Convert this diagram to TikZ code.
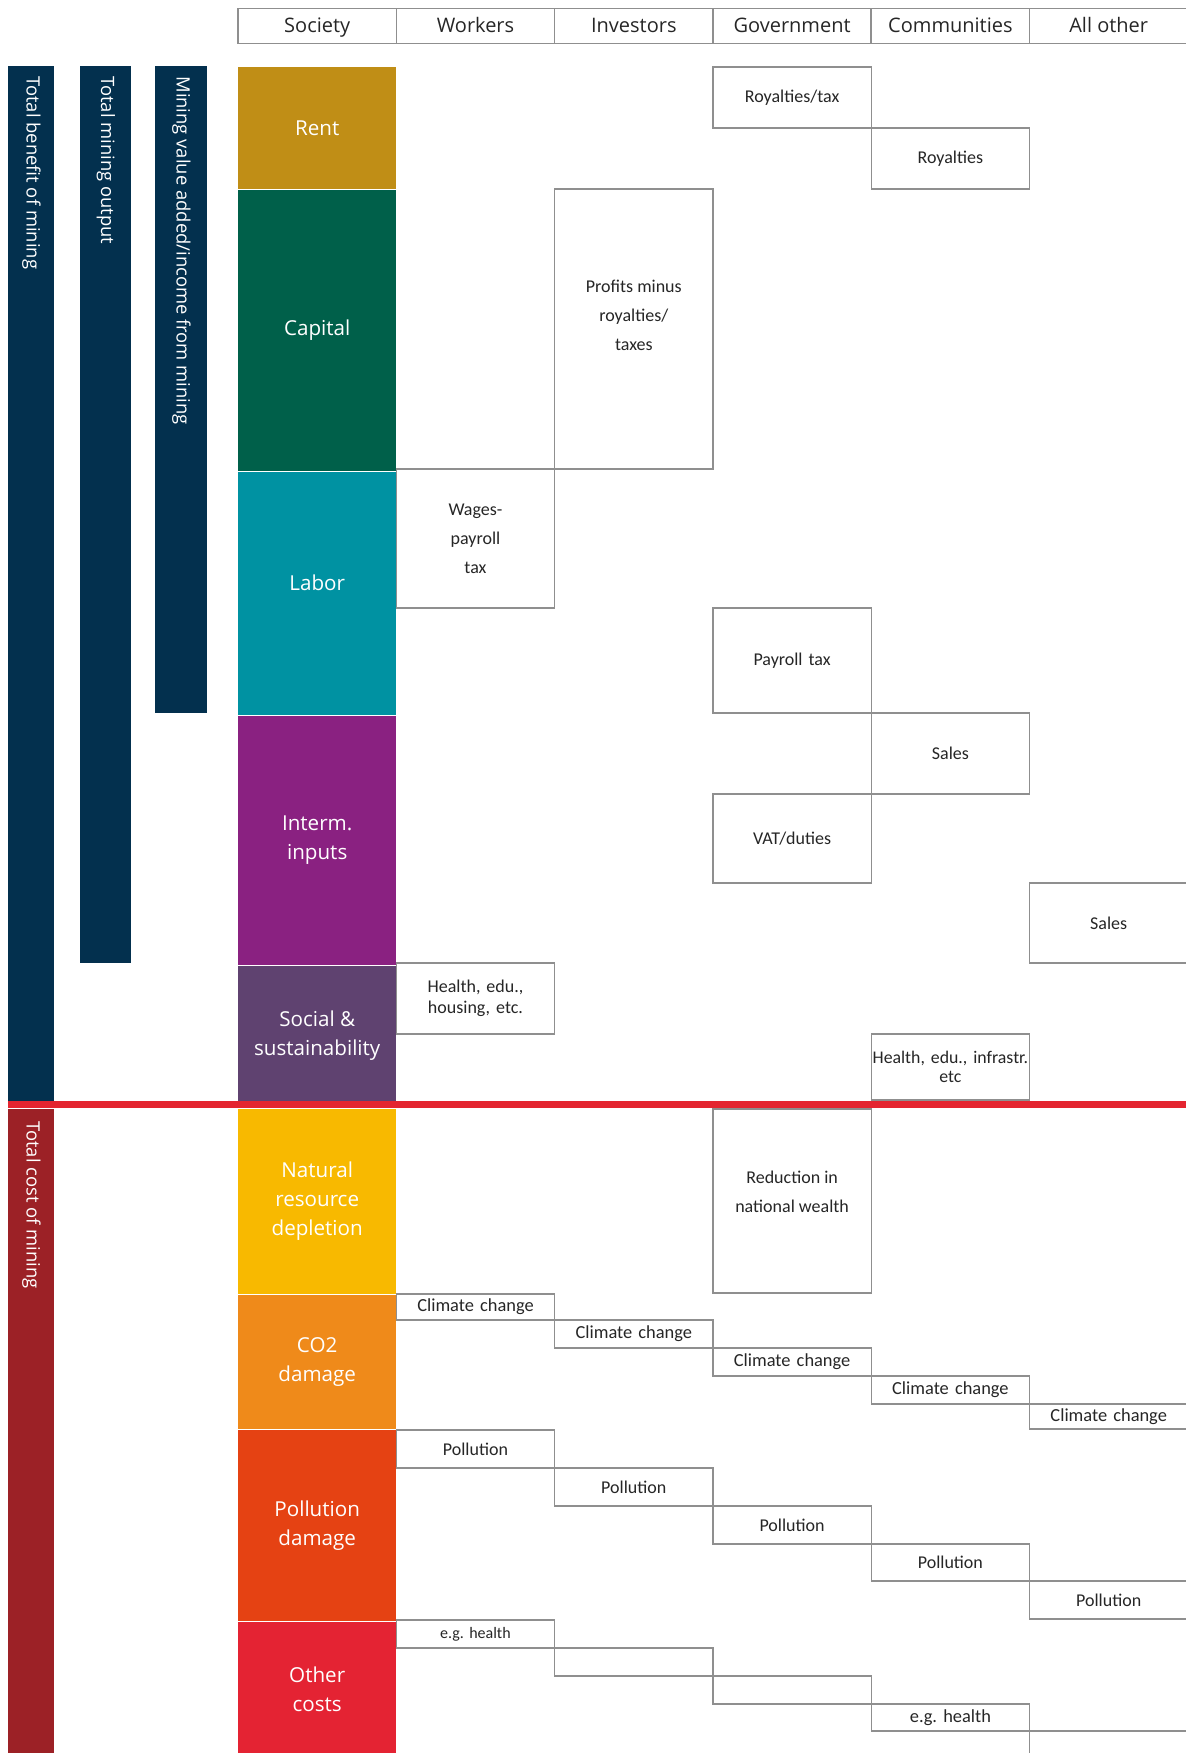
\documentclass[tikz,border=0pt]{standalone}
\usepackage{fontspec}
\setmainfont{Carlito}
\newfontfamily\segoe{Open Sans}
\usetikzlibrary{positioning}
\definecolor{navy}{HTML}{03304E}
\definecolor{costred}{HTML}{9C2126}
\definecolor{rentc}{HTML}{C08E16}
\definecolor{capc}{HTML}{00604A}
\definecolor{labc}{HTML}{0092A2}
\definecolor{intc}{HTML}{8A2181}
\definecolor{socc}{HTML}{5F4270}
\definecolor{natc}{HTML}{F8B900}
\definecolor{co2c}{HTML}{EF8A1A}
\definecolor{polc}{HTML}{E54213}
\definecolor{othc}{HTML}{E42333}
\definecolor{lin}{HTML}{E42530}
\definecolor{rim}{HTML}{8F8F8F}

\begin{document}
\begin{tikzpicture}[x=0.5pt, y=-0.5pt,
      hd/.style={draw=rim, line width=0.8pt, minimum width=79.15pt, minimum height=17.5pt,
                 inner sep=0pt, text height=1.8ex, text depth=0.3ex, text=black!85,
                 font=\segoe\fontsize{10}{12}\selectfont},
      blk/.style={minimum width=79.15pt, inner sep=0pt, align=center, text=white,
                  font=\segoe\fontsize{10.3}{14.5}\selectfont},
      bar/.style={fill=navy, inner sep=0pt, anchor=north west},
      bartxt/.style={rotate=-90, anchor=west, inner sep=0pt, text=white,
                     font=\segoe\fontsize{9.2}{11}\selectfont},
      cell/.style={draw=rim, line width=0.6pt, fill=white, text width=76pt, inner xsep=1.575pt,
                   inner ysep=0pt, outer sep=0pt, align=center, text=black!85,
                   font=\fontsize{9}{14.5}\selectfont},
      lbl/.style={align=center, inner sep=0pt, font=\fontsize{9}{14.5}\selectfont, text=black!85}]
    \useasboundingbox (0,0) rectangle (1186,1753);
    \foreach \t [count=\i from 0] in {Society, Workers, Investors, Government, Communities, All other}
      \node[hd] (h\i) at ({317.2+158.3*\i},25.8) {\t};
    % side bars
    \node[bar, minimum width=23pt, minimum height=517.5pt] (benefit) at (8,66) {};
    \node[bar, minimum width=25.5pt, minimum height=448.2pt] (output) at (80,66) {};
    \node[bar, minimum width=26pt, minimum height=323.5pt] (valadd) at (155,66) {};
    \node[bar, fill=costred, minimum width=23pt, minimum height=322pt] (cost) at (8,1109) {};
    \node[bartxt] at ([yshift=-5pt]benefit.north) {Total benefit of mining};
    \node[bartxt] at ([yshift=-5pt]output.north) {Total mining output};
    \node[bartxt] at ([yshift=-5pt]valadd.north) {Mining value added/income from mining};
    \node[bartxt] at ([yshift=-6pt]cost.north) {Total cost of mining};
    % society column
    \node[blk, fill=rentc, minimum height=61pt, anchor=north] (rent) at (317.2,67) {Rent};
    \node[blk, fill=capc, minimum height=140.25pt, below=0pt of rent] (capital) {Capital};
    \node[blk, fill=labc, minimum height=121.75pt, below=0pt of capital,
          label={[blk, yshift=5pt]center:Labor}] (labor) {};
    \node[blk, fill=intc, minimum height=124.7pt, below=0pt of labor] (interm) {Interm.\\inputs};
    \node[blk, fill=socc, minimum height=69.3pt, below=0pt of interm] (social) {Social \&\\sustainability};
    \node[blk, fill=natc, minimum height=92.5pt, anchor=north] (natural) at (317.2,1108.5) {Natural\\resource\\depletion};
    \node[blk, fill=co2c, minimum height=67.25pt, below=0pt of natural] (co2) {CO2\\damage};
    \node[blk, fill=polc, minimum height=95.5pt, below=0pt of co2] (pollut) {Pollution\\damage};
    \node[blk, fill=othc, minimum height=67pt, below=0pt of pollut] (other) {Other\\costs};
    \draw[lin, line width=3.5pt] (8,1104.5) -- (1186,1104.5);
    % benefits
    \node[cell, minimum height=30.5pt, anchor=north] (roytax) at (792.1,67) {Royalties/tax};
    \node[cell, minimum height=30.5pt, below right=0pt and 0pt of roytax] (roy) {Royalties};
    \node[cell, minimum height=140pt, anchor=north,
          label={[lbl, yshift=6.7pt]center:Profits minus\\royalties/\\taxes}] (profit) at (633.8,189) {};
    \node[cell, minimum height=69.5pt, below left=0pt and 0pt of profit] (wages) {Wages-\\payroll\\tax};
    \node[cell, minimum height=52.5pt, anchor=north] (payroll) at (792.1,608) {Payroll tax};
    \node[cell, minimum height=40.5pt, below right=0pt and 0pt of payroll] (salescom) {Sales};
    \node[cell, minimum height=44.5pt, below left=0pt and 0pt of salescom] (vat) {VAT/duties};
    \node[cell, minimum height=40pt, anchor=north] (salesall) at (1108.7,883) {Sales};
    \node[cell, minimum height=35.5pt, anchor=north, font=\fontsize{9}{10.5}\selectfont] (healthw) at (475.5,963) {Health, edu.,\\housing, etc.};
    \node[cell, minimum height=33pt, anchor=north, text width=79pt, inner xsep=0.075pt,
          font=\fontsize{8.9}{9.5}\selectfont] (healthc) at (950.4,1034) {Health, edu., infrastr.\\etc};
    % costs
    \node[cell, minimum height=92pt, anchor=north,
          label={[lbl, yshift=4.5pt]center:Reduction in\\national wealth}] (wealth) at (792.1,1109) {};
    \node[cell, minimum height=13pt, anchor=north, font=\fontsize{9.2}{11}\selectfont] (cc1) at (475.5,1294) {Climate change};
    \foreach \i/\j/\h in {2/1/14, 3/2/14, 4/3/14, 5/4/12.5}
      \node[cell, minimum height=\h pt, below right=0pt and 0pt of cc\j, font=\fontsize{9.2}{11}\selectfont] (cc\i) {Climate change};
    \node[cell, minimum height=19pt, anchor=north] (pol1) at (475.5,1430) {Pollution};
    \foreach \i/\j/\h in {2/1/19, 3/2/19, 4/3/18.5, 5/4/19}
      \node[cell, minimum height=\h pt, below right=0pt and 0pt of pol\j] (pol\i) {Pollution};
    \node[cell, minimum height=14pt, anchor=north, font=\fontsize{8}{10}\selectfont] (oth1) at (475.5,1620) {e.g.\ health};
    \foreach \i/\j/\h/\t in {2/1/14/{}, 3/2/14/{}, 4/3/13.5/e.g.\ health, 5/4/15/{}}
      \node[cell, minimum height=\h pt, below right=0pt and 0pt of oth\j, font=\fontsize{9.2}{11}\selectfont] (oth\i) {\t};
\end{tikzpicture}
\end{document}
